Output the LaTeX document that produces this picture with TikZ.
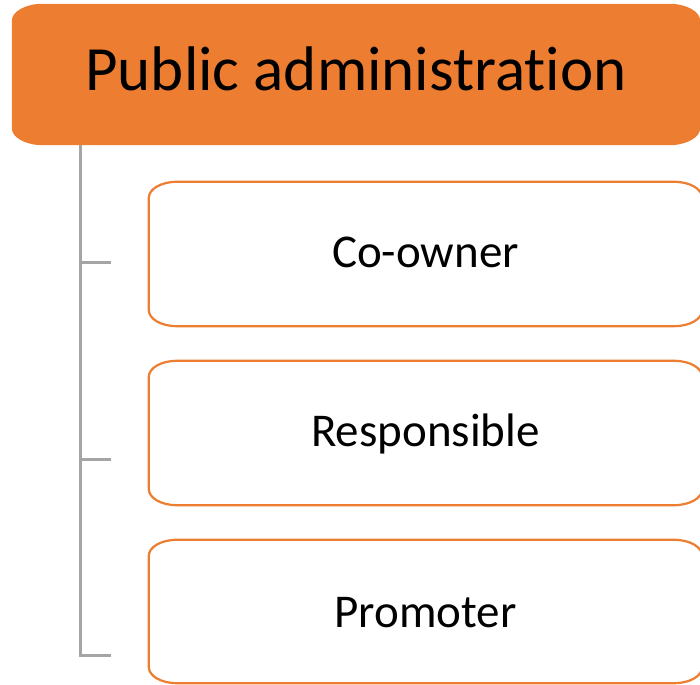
\documentclass[tikz,border=0pt]{standalone}
\usepackage{fontspec}
\setmainfont[Ligatures={NoCommon,NoRequired,NoContextual},RawFeature={-liga;-clig}]{Carlito}
\usetikzlibrary{calc}
\definecolor{accent}{HTML}{ED7D31}
\definecolor{spine}{HTML}{A5A5A5}
\newcommand\ellboxpath[4]{% #1 node, #2 style, #3 rx, #4 ry
  \path[#2] ($(#1.north west)+(#3,0)$) -- ($(#1.north east)+(-#3,0)$)
    arc[start angle=90,end angle=0,x radius=#3,y radius=#4]
    -- ($(#1.south east)+(0,#4)$)
    arc[start angle=0,end angle=-90,x radius=#3,y radius=#4]
    -- ($(#1.south west)+(#3,0)$)
    arc[start angle=270,end angle=180,x radius=#3,y radius=#4]
    -- ($(#1.north west)+(0,-#4)$)
    arc[start angle=180,end angle=90,x radius=#3,y radius=#4] -- cycle;}
\tikzset{
  headbox/.style={shape=rectangle, inner sep=0pt, text=black,
    font=\fontsize{63}{70}\selectfont, text height=33pt, text depth=0pt},
  itembox/.style={shape=rectangle, inner sep=0pt, text=black,
    font=\fontsize{47}{54}\selectfont, text height=28pt, text depth=0pt},
  headfill/.style={fill=accent},
  itemline/.style={draw=accent, line width=2.2pt, fill=white},
  conn/.style={draw=spine, line width=3pt}
}
\begin{document}
\begin{tikzpicture}[x=1pt,y=1pt]
  \useasboundingbox (0,0) rectangle (700,684);
  \begin{scope}
  \clip (0,0) rectangle (700,684);
  % geometry nodes
  \node[headbox, minimum width=688pt, minimum height=141pt] (header) at (356,609.5) {};
  \node[itembox, minimum width=553pt, minimum height=144pt] (b1) at (425.5,430) {};
  \node[itembox, minimum width=553pt, minimum height=144pt] (b2) at (425.5,251) {};
  \node[itembox, minimum width=553pt, minimum height=143pt] (b3) at (425.5,72.5) {};
  % shapes
  \ellboxpath{header}{headfill}{31pt}{17pt}
  \ellboxpath{b1}{itemline}{28pt}{16pt}
  \ellboxpath{b2}{itemline}{28pt}{16pt}
  \ellboxpath{b3}{itemline}{28pt}{16pt}
  % texts
  \node[headbox] (headtxt) at (header.center) {Public administration};
  \node[itembox] (t1txt) at (b1.center) {Co-owner};
  \node[itembox] (t2txt) at (b2.center) {Responsible};
  \node[itembox, text height=32pt] (t3txt) at (b3.center) {Promoter};
  % connectors
  \coordinate (s0) at (80,539);
  \coordinate (k1) at (111,421);
  \coordinate (k2) at (111,224);
  \coordinate (k3) at (111,28);
  \draw[conn] (s0) |- (k3);
  \draw[conn] (k1 -| s0) -- (k1);
  \draw[conn] (k2 -| s0) -- (k2);
  \end{scope}
\end{tikzpicture}
\end{document}
